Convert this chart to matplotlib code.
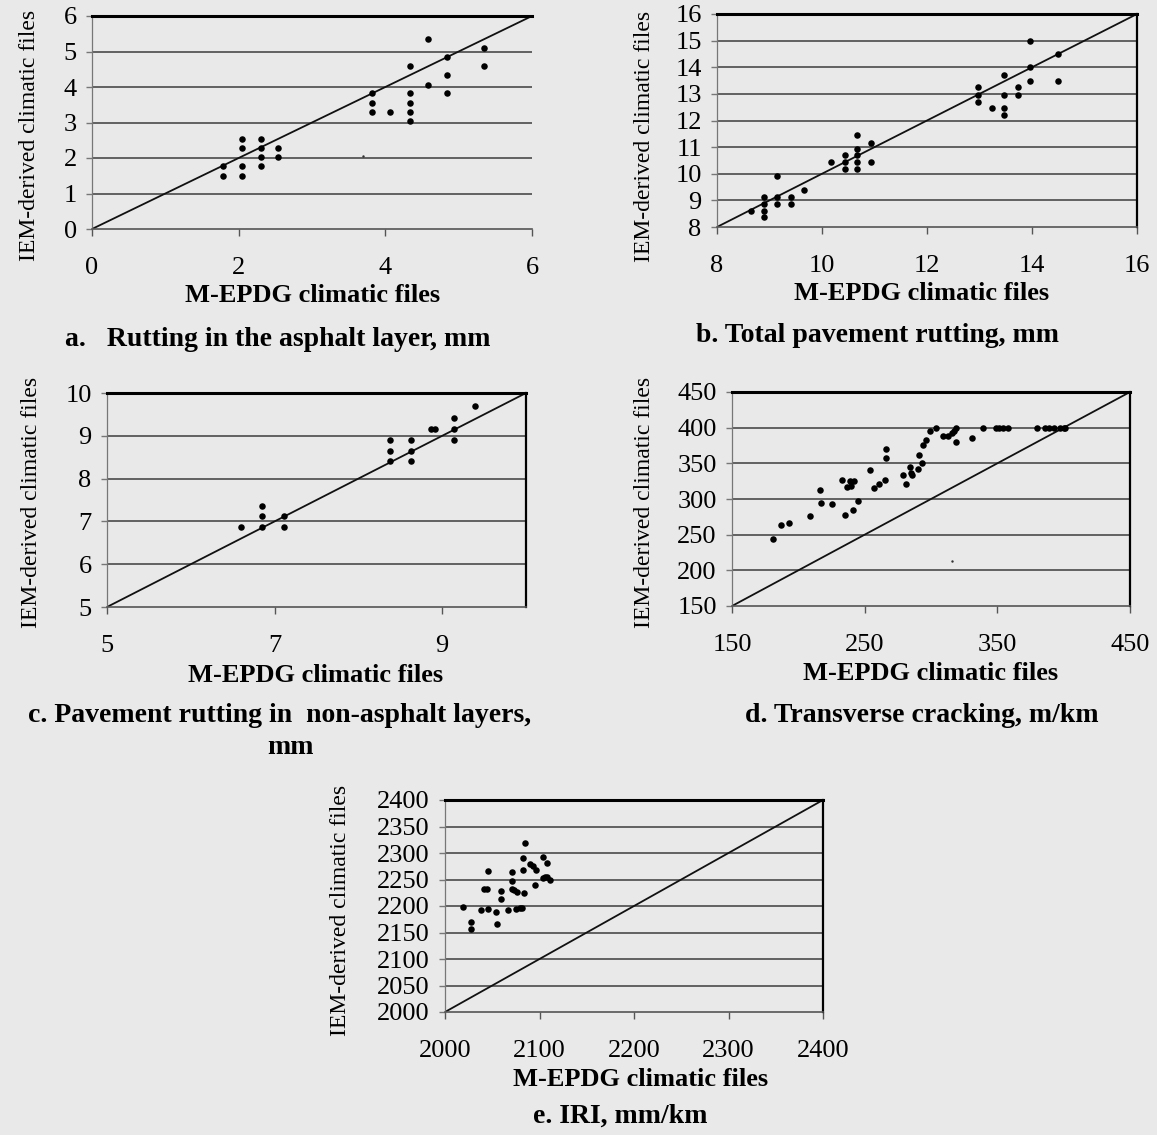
import matplotlib
matplotlib.use("Agg")
import matplotlib.pyplot as plt

plt.rcParams['font.family'] = ['Liberation Serif', 'DejaVu Serif']

W, H = 1157, 1135
BG = '#e9e9e9'

# a. rutting in the asphalt layer
a_x = [1.79, 1.79, 2.05, 2.05, 2.05, 2.05, 2.30, 2.30, 2.30, 2.30, 2.54, 2.54,
       3.82, 3.82, 3.82, 4.07, 4.33, 4.33, 4.33, 4.33, 4.33, 4.58, 4.58,
       4.84, 4.84, 4.84, 5.34, 5.34]
a_y = [1.50, 1.77, 1.50, 1.77, 2.27, 2.54, 2.54, 2.27, 2.02, 1.77, 2.27, 2.02,
       3.82, 3.56, 3.30, 3.30, 3.82, 3.56, 3.30, 3.05, 4.60, 5.34, 4.07,
       4.85, 4.34, 3.82, 5.09, 4.60]

# b. total pavement rutting
b_x = [8.65, 8.90, 8.90, 8.90, 8.90, 9.14, 9.14, 9.14, 9.40, 9.40, 9.65,
       10.18, 10.43, 10.43, 10.43, 10.67, 10.67, 10.67, 10.67, 10.67, 10.93, 10.93,
       12.98, 12.98, 12.98, 13.23, 13.46, 13.46, 13.46, 13.46, 13.73, 13.73,
       13.97, 13.97, 13.97, 14.50, 14.50]
b_y = [8.61, 9.11, 8.86, 8.61, 8.36, 9.11, 8.86, 9.90, 9.11, 8.86, 9.39,
       10.43, 10.69, 10.43, 10.17, 11.44, 10.93, 10.69, 10.43, 10.17, 11.17, 10.43,
       13.24, 12.97, 12.71, 12.46, 13.72, 12.97, 12.46, 12.21, 13.24, 12.97,
       15.00, 14.00, 13.47, 14.50, 13.47]

# c. rutting in non-asphalt layers
c_x = [6.60, 6.85, 6.85, 6.85, 7.11, 7.11, 8.38, 8.38, 8.38, 8.63, 8.63, 8.63,
       8.87, 8.91, 9.14, 9.14, 9.14, 9.39]
c_y = [6.87, 6.87, 7.12, 7.37, 7.12, 6.87, 8.40, 8.65, 8.91, 8.91, 8.65, 8.40,
       9.16, 9.16, 9.42, 9.16, 8.91, 9.69]

# d. transverse cracking
d_x = [181, 187, 193, 209, 216, 217, 225, 233, 235, 237, 239, 240, 242, 241, 245,
       254, 257, 261, 265, 266, 266, 279, 281, 284, 285, 286, 290, 291, 293, 294,
       296, 299, 304, 309, 313, 316, 317, 319, 319, 331, 339, 349, 351, 354, 358,
       380, 386, 389, 393, 397, 400, 401]
d_y = [244, 263, 267, 276, 312, 295, 293, 327, 278, 317, 325, 318, 325, 284, 297,
       340, 315, 321, 326, 357, 370, 334, 321, 345, 337, 333, 342, 361, 350, 376,
       383, 395, 400, 389, 389, 392, 395, 400, 380, 386, 399, 400, 400, 400, 400,
       400, 400, 400, 400, 400, 400, 400]

# e. IRI
e_x = [2019, 2027, 2027, 2038, 2041, 2044, 2046, 2046, 2054, 2055, 2059, 2059,
       2067, 2071, 2071, 2071, 2073, 2075, 2076, 2079, 2081, 2083, 2083, 2084,
       2085, 2090, 2093, 2096, 2095, 2104, 2104, 2108, 2108, 2111, 2106]
e_y = [2198, 2169, 2156, 2192, 2233, 2233, 2266, 2194, 2188, 2166, 2228, 2214,
       2192, 2265, 2248, 2233, 2230, 2195, 2227, 2196, 2196, 2267, 2290, 2225,
       2318, 2279, 2275, 2268, 2240, 2292, 2252, 2281, 2254, 2249, 2254]

# stray specks in the scan
specks = {'a': ([3.70], [2.07]), 'd': ([316], [213])}

panels = [
    # key, x, y, xticks, yticks, box px (l, r, top, bottom), right spine
    ('a', a_x, a_y, [0, 2, 4, 6], [0, 1, 2, 3, 4, 5, 6], (92, 532, 16, 229), False),
    ('b', b_x, b_y, [8, 10, 12, 14, 16], list(range(8, 17)), (717, 1137, 14, 227), True),
    ('c', c_x, c_y, [5, 7, 9], [5, 6, 7, 8, 9, 10], (107, 526, 393, 607), True),
    ('d', d_x, d_y, [150, 250, 350, 450], list(range(150, 451, 50)), (732, 1130, 392, 606), True),
    ('e', e_x, e_y, list(range(2000, 2401, 100)), list(range(2000, 2401, 50)), (445, 823, 800, 1012), True),
]
lims = {'a': (0, 6), 'b': (8, 16), 'c': (5, 10), 'd': (150, 450), 'e': (2000, 2400)}

texts = [
    # ylabel (x, y), xlabel (x, y), caption lines
    ((30, 135), (313, 296), [("a.   Rutting in the asphalt layer, mm", 278, 339)]),
    ((645, 136), (922, 294), [("b. Total pavement rutting, mm", 877, 336)]),
    ((32, 502), (316, 675), [("c. Pavement rutting in  non-asphalt layers,", 280, 715),
                             ("mm", 290, 748)]),
    ((645, 502), (931, 674), [("d. Transverse cracking, m/km", 922, 715)]),
    ((340, 910), (641, 1079), [("e. IRI, mm/km", 620, 1116)]),
]

fig = plt.figure(figsize=(W / 100, H / 100), dpi=100, facecolor=BG)

def fx(px):
    return px / W

def fy(py):
    return 1 - py / H

for (key, xs, ys, xt, yt, box, rspine), (ylab, xlab, caps) in zip(panels, texts):
    l, r, t, b = box
    ax = fig.add_axes([fx(l), fy(b), (r - l) / W, (b - t) / H])
    ax.set_facecolor(BG)
    lo, hi = lims[key]
    ax.set_xlim(lo, hi)
    ax.set_ylim(lo, hi)
    ax.set_xticks(xt)
    ax.set_yticks(yt)
    for v in yt[1:-1]:
        ax.axhline(v, color='#4a4a4a', lw=1.2, zorder=1)
    ax.plot([lo, hi], [lo, hi], color='#111111', lw=1.3, zorder=2)
    ax.scatter(xs, ys, s=22, color='black', zorder=3, linewidths=0)
    if key in specks:
        sx, sy = specks[key]
        ax.scatter(sx, sy, s=3, color='#333333', zorder=3, linewidths=0)
    ax.spines['top'].set_color('black')
    ax.spines['top'].set_linewidth(2.2)
    ax.spines['bottom'].set_color('#555555')
    ax.spines['bottom'].set_linewidth(1.2)
    ax.spines['left'].set_color('#777777')
    ax.spines['left'].set_linewidth(0.9)
    ax.spines['right'].set_visible(rspine)
    ax.spines['right'].set_color('black')
    ax.spines['right'].set_linewidth(1.6)
    ax.tick_params(axis='x', direction='out', length=5, width=1, color='#555555',
                   pad=15, labelsize=19)
    ax.tick_params(axis='y', direction='out', length=4, width=1, color='#777777',
                   pad=7, labelsize=19)
    fig.text(fx(ylab[0]), fy(ylab[1]), "IEM-derived climatic files", rotation=90,
             ha='center', va='center', fontsize=17)
    fig.text(fx(xlab[0]), fy(xlab[1]), "M-EPDG climatic files",
             ha='center', va='center', fontsize=19, fontweight='bold')
    for s, cx, cy in caps:
        fig.text(fx(cx), fy(cy), s, ha='center', va='center', fontsize=20,
                 fontweight='bold')

fig.savefig('out.png', dpi=100, facecolor=BG)
